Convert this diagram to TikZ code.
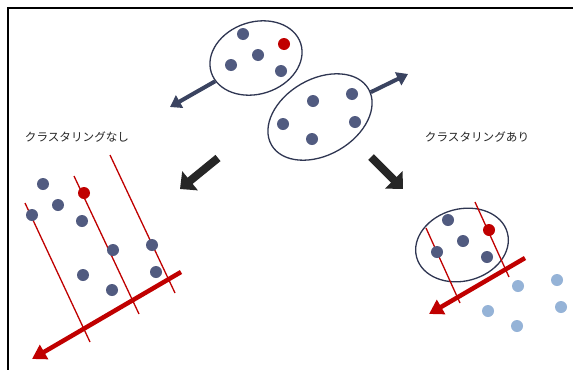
\documentclass[tikz,border=0pt]{standalone}
\usepackage{fontspec}
\newfontfamily\jpfont{Noto Sans CJK JP}
\usetikzlibrary{arrows.meta,shapes.geometric}
\definecolor{dotnavy}{HTML}{515B80}
\definecolor{linenavy}{HTML}{2F3652}
\definecolor{arrnavy}{HTML}{3A4360}
\definecolor{cutred}{HTML}{C00000}
\definecolor{farblue}{HTML}{95B3D7}
\definecolor{txtgray}{HTML}{262626}
\tikzset{
  pt/.style={circle, fill=dotnavy, inner sep=0pt, minimum size=12pt},
  hit/.style={pt, fill=cutred},
  far/.style={pt, fill=farblue},
  grp/.style={ellipse, draw=linenavy, line width=1.3pt, inner sep=0pt},
  navyarr/.style={-{Triangle[length=11pt,width=14pt]}, line width=4pt, arrnavy},
  bigarr/.style={-{Triangle[length=13pt,width=24pt]}, line width=8pt, txtgray},
  redarr/.style={-{Triangle[length=14pt,width=16pt]}, line width=4.5pt, cutred},
  cut/.style={line width=1.3pt, cutred},
  lbl/.style={font=\jpfont\fontsize{11.6}{13}\selectfont, text=txtgray, inner sep=0pt}
}
\begin{document}
\begin{tikzpicture}[x=1pt, y=-1pt]
  \useasboundingbox (0,0) rectangle (573,370);
  \fill[white] (0,0) rectangle (573,370);
  \draw[line width=2pt] (573,7.5) -- (7.5,7.5) -- (7.5,370);

  % --- top: two groups ---------------------------------------------------
  \node[grp, minimum width=94pt, minimum height=72pt, rotate=18] (grpA) at (256,58) {};
  \node[grp, minimum width=112pt, minimum height=76pt, rotate=30] (grpB) at (320,117) {};

  \node[pt]  (a1) at (243,34) {};
  \node[hit] (a2) at (284,44) {};
  \node[pt]  (a3) at (258,55) {};
  \node[pt]  (a4) at (231,65) {};
  \node[pt]  (a5) at (281,71) {};

  \node[pt] (b1) at (313,101) {};
  \node[pt] (b2) at (352,94) {};
  \node[pt] (b3) at (283,124) {};
  \node[pt] (b4) at (355,122) {};
  \node[pt] (b5) at (312,139) {};

  \coordinate (tipA) at (170,107);
  \coordinate (tipB) at (408,74);
  \draw[navyarr] (grpA) -- (tipA);
  \draw[navyarr] (grpB) -- (tipB);

  % --- labels and branch arrows ------------------------------------------
  \node[lbl] (noclu) at (77,137) {クラスタリングなし};
  \node[lbl] (clu) at (477,137) {クラスタリングあり};

  \coordinate (bl0) at (218,158);
  \coordinate (bl1) at (180,189);
  \coordinate (br0) at (371,157);
  \coordinate (br1) at (403,189);
  \draw[bigarr] (bl0) -- (bl1);
  \draw[bigarr] (br0) -- (br1);

  % --- left: without clustering ------------------------------------------
  \draw[cut] (25,203) -- (90,342);
  \draw[cut] (74,176) -- (139,314);
  \draw[cut] (110,155) -- (175,293);

  \node[pt]  (l1) at (43,184) {};
  \node[hit] (l2) at (84,193) {};
  \node[pt]  (l3) at (58,205) {};
  \node[pt]  (l4) at (32,215) {};
  \node[pt]  (l5) at (82,221) {};
  \node[pt]  (l6) at (113,250) {};
  \node[pt]  (l7) at (152,245) {};
  \node[pt]  (l8) at (83,275) {};
  \node[pt]  (l9) at (156,272) {};
  \node[pt]  (l10) at (112,290) {};

  \coordinate (pl0) at (181,272);
  \coordinate (pl1) at (32,359);
  \draw[redarr] (pl0) -- (pl1);

  % --- right: with clustering --------------------------------------------
  \node[grp, minimum width=94pt, minimum height=72pt, rotate=15] (grpC) at (462,245) {};
  \draw[cut] (426,228) -- (460,303);
  \draw[cut] (475,202) -- (509,277);

  \node[pt]  (c1) at (448,220) {};
  \node[hit] (c2) at (489,230) {};
  \node[pt]  (c3) at (463,241) {};
  \node[pt]  (c4) at (437,252) {};
  \node[pt]  (c5) at (487,257) {};

  \node[far] (f1) at (518,286) {};
  \node[far] (f2) at (557,280) {};
  \node[far] (f3) at (488,311) {};
  \node[far] (f4) at (561,307) {};
  \node[far] (f5) at (517,326) {};

  \coordinate (pr0) at (525,258);
  \coordinate (pr1) at (429,314);
  \draw[redarr] (pr0) -- (pr1);
\end{tikzpicture}
\end{document}
